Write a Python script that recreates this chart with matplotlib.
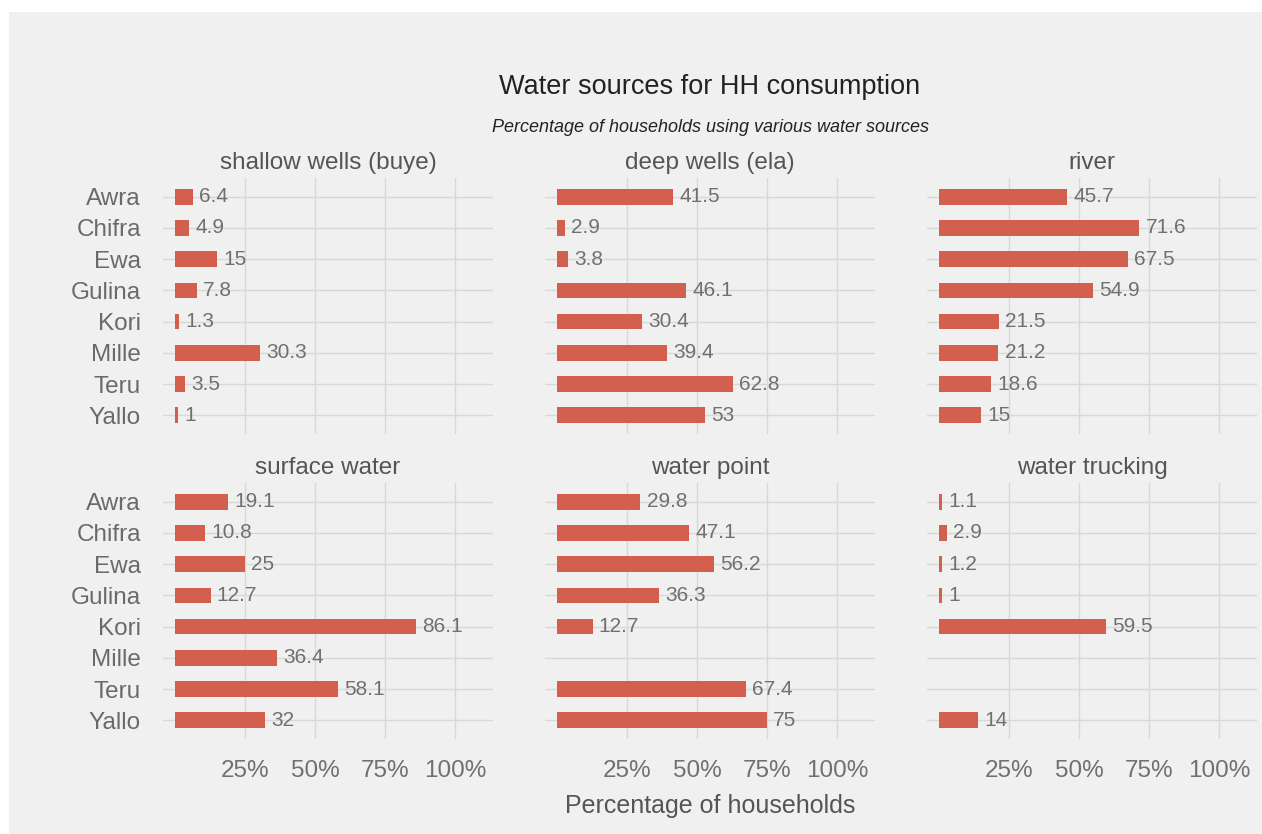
import numpy as np
import matplotlib
matplotlib.use("Agg")
import matplotlib.pyplot as plt
from matplotlib.patches import Rectangle

plt.rcParams['font.family'] = ['Liberation Sans', 'DejaVu Sans']

# Data: percentage of households using each water source, by woreda
woredas = ["Awra", "Chifra", "Ewa", "Gulina", "Kori", "Mille", "Teru", "Yallo"]
sources = ["shallow wells (buye)", "deep wells (ela)", "river",
           "surface water", "water point", "water trucking"]
shallow_wells = [6.4, 4.9, 15, 7.8, 1.3, 30.3, 3.5, 1]
deep_wells = [41.5, 2.9, 3.8, 46.1, 30.4, 39.4, 62.8, 53]
river = [45.7, 71.6, 67.5, 54.9, 21.5, 21.2, 18.6, 15]
surface_water = [19.1, 10.8, 25, 12.7, 86.1, 36.4, 58.1, 32]
water_point = [29.8, 47.1, 56.2, 36.3, 12.7, np.nan, 67.4, 75]
water_trucking = [1.1, 2.9, 1.2, 1, 59.5, np.nan, np.nan, 14]
x_ticks = [25, 50, 75, 100]
x_tick_labels = ["25%", "50%", "75%", "100%"]

series = [shallow_wells, deep_wells, river, surface_water, water_point, water_trucking]

W, H = 1262, 834
BG = "#F0F0F0"
BAR = "#D35F4F"
GRID = "#D8D8D8"

fig = plt.figure(figsize=(W / 100, H / 100), dpi=100)
fig.patch.set_facecolor("white")
fig.patches.append(Rectangle((9 / W, 0), 1 - 9 / W, 1 - 12 / H,
                             transform=fig.transFigure, facecolor=BG,
                             edgecolor="none", zorder=-10))

col_left = [163, 545, 927]
panel_w = 330
row_top = [178, 483]
panel_h = 256

for i, (name, vals) in enumerate(zip(sources, series)):
    r, c = divmod(i, 3)
    x0, y0 = col_left[c], row_top[r]
    ax = fig.add_axes([x0 / W, 1 - (y0 + panel_h) / H, panel_w / W, panel_h / H])
    ax.set_facecolor("none")
    ypos = np.arange(len(woredas))
    ax.barh(ypos, vals, height=0.5, color=BAR, zorder=3)
    for yy, v in zip(ypos, vals):
        if np.isnan(v):
            continue
        ax.annotate(f"{v:g}", xy=(v, yy), xytext=(4.5, 0), textcoords="offset points",
                    ha="left", va="center", fontsize=15, color="#707070", zorder=4)
    ax.set_xlim(-4.3, 113.6)
    ax.set_ylim(len(woredas) - 0.4, -0.6)
    ax.set_yticks(ypos)
    ax.set_xticks(x_ticks)
    ax.grid(True, color=GRID, linewidth=1.0, zorder=0)
    for s in ax.spines.values():
        s.set_visible(False)
    ax.tick_params(length=0)
    if c == 0:
        ax.set_yticklabels(woredas, fontsize=17.5, color="#6A6A6A")
        ax.tick_params(axis="y", pad=16)
    else:
        ax.set_yticklabels([])
    if r == 1:
        ax.set_xticklabels(x_tick_labels, fontsize=17.5, color="#707070")
        ax.tick_params(axis="x", pad=15)
    else:
        ax.set_xticklabels([])
    fig.text((x0 + panel_w / 2) / W, 1 - (y0 - 15) / H, name, ha="center", va="center",
             fontsize=17.5, color="#555555")

cx = (163 + 927 + panel_w) / 2 / W
fig.text(cx, 1 - 87 / H, "Water sources for HH consumption", ha="center", va="center",
         fontsize=19.5, color="#222222")
fig.text(cx, 1 - 127 / H, "Percentage of households using various water sources",
         ha="center", va="center", fontsize=13, style="italic", color="#222222")
fig.text(cx, 1 - 806 / H, "Percentage of households", ha="center", va="center",
         fontsize=18, color="#555555")

fig.savefig("out.png", dpi=100, facecolor=fig.get_facecolor())
